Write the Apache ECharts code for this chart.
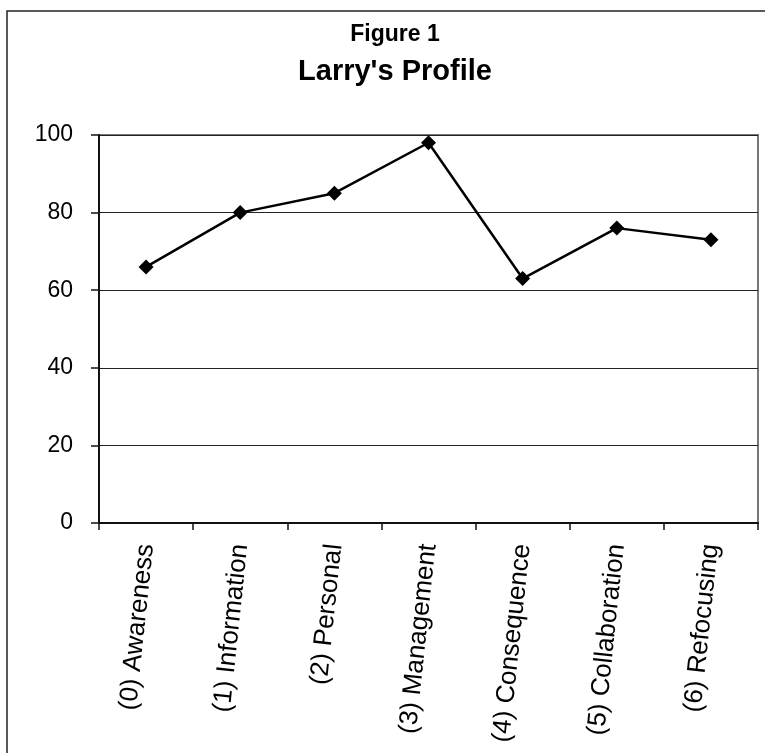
<!DOCTYPE html>
<html>
<head>
<meta charset="utf-8">
<script src="https://cdn.jsdelivr.net/npm/echarts@6/dist/echarts.min.js"></script>
<style>
  html, body { margin: 0; padding: 0; background: #fff; }
  #chart { width: 765px; height: 753px; }
</style>
</head>
<body>
<div id="chart"></div>
<script>
// Stages of concern, in order
const stages = [
  '(0) Awareness',
  '(1) Information',
  '(2) Personal',
  '(3) Management',
  '(4) Consequence',
  '(5) Collaboration',
  '(6) Refocusing'
];
// Percentile scores for Larry
const scores = [66, 80, 85, 98, 63, 76, 73];
// Value axis labels
const yTicks = [0, 20, 40, 60, 80, 100];

const chart = echarts.init(document.getElementById('chart'));
const font = 'Arial, "Liberation Sans", sans-serif';

chart.setOption({
  animation: false,
  backgroundColor: '#fff',
  title: [
    {
      text: 'Figure 1',
      left: 395,
      textAlign: 'center',
      top: 23,
      padding: 0,
      textStyle: { fontFamily: font, fontSize: 23, fontWeight: 'bold', color: '#000' }
    },
    {
      text: "Larry's Profile",
      left: 395,
      textAlign: 'center',
      top: 57,
      padding: 0,
      textStyle: { fontFamily: font, fontSize: 29, fontWeight: 'bold', color: '#000' }
    }
  ],
  graphic: [
    {
      type: 'polyline',
      shape: { points: [[7, 753], [7, 11], [765, 11]] },
      style: { stroke: '#222', lineWidth: 1.5, fill: null }
    }
  ],
  grid: {
    left: 99,
    right: 7,
    top: 135,
    bottom: 230,
    show: true,
    borderColor: '#777',
    borderWidth: 2
  },
  xAxis: {
    type: 'category',
    data: stages,
    boundaryGap: true,
    axisLine: { lineStyle: { color: '#111', width: 2 } },
    axisTick: { show: true, length: 7, lineStyle: { color: '#111', width: 1.5 } },
    axisLabel: {
      rotate: 84,
      margin: 21,
      interval: 0,
      fontFamily: font,
      fontSize: 26,
      color: '#000'
    },
    splitLine: { show: false }
  },
  yAxis: {
    type: 'value',
    min: yTicks[0],
    max: yTicks[yTicks.length - 1],
    interval: yTicks[1] - yTicks[0],
    axisLine: { show: true, lineStyle: { color: '#111', width: 2 } },
    axisTick: { show: true, length: 8, lineStyle: { color: '#111', width: 1.5 } },
    axisLabel: {
      margin: 26,
      fontFamily: font,
      fontSize: 23,
      color: '#000'
    },
    splitLine: { show: true, lineStyle: { color: '#222', width: 1.2 } }
  },
  series: [
    {
      type: 'line',
      data: scores,
      symbol: 'diamond',
      symbolSize: 15,
      itemStyle: { color: '#000' },
      lineStyle: { color: '#000', width: 2.5 }
    }
  ]
});
</script>
</body>
</html>
